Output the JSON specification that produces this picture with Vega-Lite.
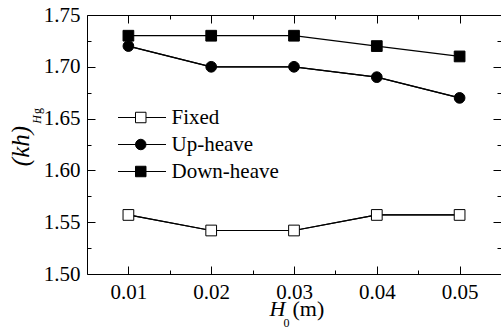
{
  "$schema": "https://vega.github.io/schema/vega-lite/v6.json",
  "autosize": {"type": "none"},
  "padding": {"left": 87, "top": 15, "right": 0, "bottom": 55},
  "width": 414,
  "height": 259,
  "background": "white",
  "data": {
    "values": [
      {"H0": 0.01, "kh": 1.557, "series": "Fixed"},
      {"H0": 0.02, "kh": 1.542, "series": "Fixed"},
      {"H0": 0.03, "kh": 1.542, "series": "Fixed"},
      {"H0": 0.04, "kh": 1.557, "series": "Fixed"},
      {"H0": 0.05, "kh": 1.557, "series": "Fixed"},
      {"H0": 0.01, "kh": 1.72, "series": "Up-heave"},
      {"H0": 0.02, "kh": 1.70, "series": "Up-heave"},
      {"H0": 0.03, "kh": 1.70, "series": "Up-heave"},
      {"H0": 0.04, "kh": 1.69, "series": "Up-heave"},
      {"H0": 0.05, "kh": 1.67, "series": "Up-heave"},
      {"H0": 0.01, "kh": 1.73, "series": "Down-heave"},
      {"H0": 0.02, "kh": 1.73, "series": "Down-heave"},
      {"H0": 0.03, "kh": 1.73, "series": "Down-heave"},
      {"H0": 0.04, "kh": 1.72, "series": "Down-heave"},
      {"H0": 0.05, "kh": 1.71, "series": "Down-heave"}
    ]
  },
  "resolve": {"axis": {"x": "independent", "y": "independent"}},
  "layer": [
    {
      "transform": [{"filter": "datum.series === 'Fixed'"}],
      "mark": {"type": "line", "color": "black", "strokeWidth": 1.2, "opacity": 1},
      "encoding": {
        "x": {"field": "H0", "type": "quantitative",
          "scale": {"domain": [0.005, 0.055], "nice": false, "zero": false},
          "axis": {"orient": "top", "values": [0.01, 0.02, 0.03, 0.04, 0.05], "tickSize": -8, "labels": false,
            "title": "0", "titleFontSize": 12, "titleFontStyle": "normal", "titleX": 199, "titleY": 311, "titleAlign": "center", "titleBaseline": "alphabetic", "titleAngle": 0}},
        "y": {"field": "kh", "type": "quantitative",
          "scale": {"domain": [1.5, 1.75], "nice": false, "zero": false},
          "axis": {"orient": "right", "values": [1.5, 1.55, 1.6, 1.65, 1.7, 1.75], "tickSize": -8, "labels": false,
            "title": "g", "titleFontSize": 12, "titleFontStyle": "normal", "titleX": -461, "titleY": 95.5, "titleAlign": "center", "titleBaseline": "alphabetic", "titleAngle": -90}}
      }
    },
    {
      "transform": [{"filter": "datum.series === 'Up-heave'"}],
      "mark": {"type": "line", "color": "black", "strokeWidth": 1.2, "opacity": 1},
      "encoding": {
        "x": {"field": "H0", "type": "quantitative",
          "axis": {"orient": "top", "values": [0.015, 0.025, 0.035, 0.045], "tickSize": -4, "labels": false, "title": null}},
        "y": {"field": "kh", "type": "quantitative",
          "axis": {"orient": "right", "values": [1.525, 1.575, 1.625, 1.675, 1.725], "tickSize": -4, "labels": false, "title": null}}
      }
    },
    {
      "mark": {"type": "line", "color": "black", "strokeWidth": 1.2},
      "encoding": {
        "x": {"field": "H0", "type": "quantitative",
          "axis": {"orient": "bottom", "values": [0.01, 0.02, 0.03, 0.04, 0.05], "format": ".2f", "tickSize": -8, "labelPadding": 15,
            "title": "H", "titleFontSize": 22, "titleFontStyle": "italic", "titleX": 190, "titleY": 41, "titleAlign": "center", "titleBaseline": "alphabetic", "titleAngle": 0}},
        "y": {"field": "kh", "type": "quantitative",
          "axis": {"orient": "left", "values": [1.5, 1.55, 1.6, 1.65, 1.7, 1.75], "format": ".2f", "tickSize": -8, "labelPadding": 15,
            "title": "(kh)", "titleFontSize": 25, "titleFontStyle": "italic", "titleX": -59, "titleY": 130.5, "titleAlign": "center", "titleBaseline": "alphabetic", "titleAngle": -90}},
        "opacity": {"field": "series", "type": "nominal",
          "scale": {"domain": ["Down-heave", "Up-heave", "Fixed"], "range": [1, 1, 1]},
          "legend": {"orient": "none", "legendX": 30, "legendY": 89, "title": null, "padding": 0,
            "values": ["Fixed", "Up-heave", "Down-heave"], "symbolType": "stroke", "symbolSize": 2304,
            "symbolStrokeWidth": 1.2, "symbolStrokeColor": "black", "clipHeight": 27, "rowPadding": 0, "labelExpr": "''"}}
      }
    },
    {
      "mark": {"type": "point", "stroke": "black", "strokeWidth": 1, "opacity": 1, "size": 115},
      "encoding": {
        "x": {"field": "H0", "type": "quantitative",
          "axis": {"orient": "bottom", "values": [0.015, 0.025, 0.035, 0.045], "tickSize": -4, "labels": false,
            "title": "(m)", "titleFontSize": 22, "titleFontStyle": "normal", "titleX": 205, "titleY": 41, "titleAlign": "left", "titleBaseline": "alphabetic", "titleAngle": 0}},
        "y": {"field": "kh", "type": "quantitative",
          "axis": {"orient": "left", "values": [1.525, 1.575, 1.625, 1.675, 1.725], "tickSize": -4, "labels": false,
            "title": "H", "titleFontSize": 12, "titleFontStyle": "italic", "titleX": -47, "titleY": 104, "titleAlign": "center", "titleBaseline": "alphabetic", "titleAngle": -90}},
        "shape": {"field": "series", "type": "nominal",
          "scale": {"domain": ["Fixed", "Up-heave", "Down-heave"], "range": ["square", "circle", "square"]},
          "legend": {"orient": "none", "legendX": 43.25, "legendY": 89, "title": null, "padding": 0,
            "symbolSize": 110, "clipHeight": 27, "rowPadding": 0, "labelOffset": 20.25, "symbolStrokeWidth": 1, "symbolOpacity": 1,
            "labelFont": "Liberation Serif", "labelFontSize": 21, "labelColor": "black"}},
        "fill": {"field": "series", "type": "nominal",
          "scale": {"domain": ["Fixed", "Up-heave", "Down-heave"], "range": ["white", "black", "black"]},
          "legend": null}
      }
    }
  ],
  "config": {
    "font": "Liberation Serif",
    "view": {"stroke": "black", "strokeWidth": 1},
    "axis": {"grid": false, "domain": false, "ticks": true, "tickColor": "black", "tickWidth": 1,
      "labelColor": "black", "labelFont": "Liberation Serif", "labelFontSize": 21,
      "titleColor": "black", "titleFont": "Liberation Serif", "titleFontWeight": "normal"}
  }
}
